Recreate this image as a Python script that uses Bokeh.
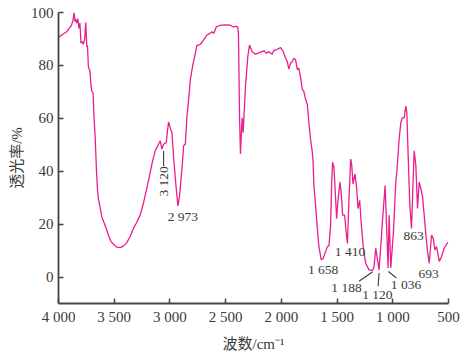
import numpy as np
from bokeh.plotting import figure
from bokeh.models import Range1d, FixedTicker, ColumnDataSource
from bokeh.core.properties import value
from bokeh.embed import file_html
from bokeh.resources import INLINE

# Spectrum (wavenumber cm^-1, transmittance %)
wavenumber = [4000, 3965, 3926, 3905, 3885, 3870, 3860, 3852, 3845, 3835, 3827, 3816, 3808, 3798,
              3788, 3777, 3765, 3755, 3746, 3740, 3732, 3717, 3710, 3701, 3690, 3681, 3670, 3660,
              3650, 3642, 3611, 3582, 3552, 3530, 3507, 3475, 3447, 3420, 3387, 3355, 3327, 3300,
              3267, 3240, 3222, 3200, 3177, 3155, 3132, 3102, 3087, 3072, 3057, 3033, 3020, 3012,
              2995, 2982, 2967, 2946, 2928, 2913, 2892, 2877, 2862, 2847, 2832, 2817, 2795, 2772,
              2757, 2742, 2727, 2700, 2667, 2645, 2622, 2607, 2583, 2560, 2532, 2500, 2457, 2430,
              2412, 2392, 2385, 2375, 2367, 2358, 2352, 2343, 2322, 2301, 2286, 2262, 2232, 2187,
              2157, 2133, 2113, 2082, 2068, 2038, 2007, 1995, 1983, 1962, 1947, 1933, 1917, 1902,
              1887, 1872, 1857, 1843, 1827, 1812, 1798, 1782, 1767, 1753, 1738, 1722, 1715, 1708,
              1693, 1677, 1663, 1642, 1624, 1603, 1588, 1573, 1558, 1549, 1540, 1528, 1518, 1504,
              1492, 1474, 1462, 1450, 1432, 1422, 1407, 1393, 1378, 1369, 1357, 1339, 1324, 1312,
              1297, 1282, 1264, 1243, 1213, 1183, 1168, 1153, 1137, 1123, 1093, 1069, 1054, 1042,
              1033, 1018, 994, 973, 964, 943, 928, 913, 898, 883, 874, 862, 847, 832, 817, 808,
              793, 778, 763, 748, 733, 718, 703, 688, 673, 652, 637, 622, 607, 598, 583, 562,
              538, 514, 502]
transmittance = [90.6, 91.7, 92.7, 94.0, 95.0, 97.0, 100.0, 96.5, 97.5, 96.0, 97.7, 94.0, 96.0, 88.4,
                 89.0, 88.0, 90.0, 96.2, 87.0, 87.5, 79.6, 77.7, 73.0, 70.2, 69.6, 60.4, 52.0, 40.9,
                 33.0, 29.6, 22.7, 19.6, 15.9, 13.5, 12.4, 11.3, 11.1, 11.6, 13.0, 15.5, 18.4, 20.5,
                 23.4, 27.5, 30.9, 35.0, 39.6, 44.0, 47.7, 50.2, 51.5, 48.4, 50.2, 50.9, 56.0, 58.6,
                 56.0, 54.6, 45.2, 34.6, 26.9, 30.9, 40.9, 49.6, 50.2, 60.9, 67.0, 74.6, 80.0, 84.6,
                 87.7, 87.7, 88.0, 89.5, 91.5, 92.0, 92.7, 92.1, 94.6, 95.0, 95.2, 95.3, 95.2, 94.5,
                 94.8, 94.6, 92.0, 60.0, 46.5, 55.0, 60.2, 54.6, 72.1, 83.4, 87.7, 85.2, 84.2, 85.0,
                 85.5, 84.6, 85.2, 84.2, 85.6, 86.1, 86.7, 86.0, 85.2, 82.7, 81.5, 78.6, 80.9, 81.5,
                 82.7, 82.1, 78.4, 79.0, 75.3, 70.9, 70.2, 67.1, 65.2, 58.4, 52.1, 47.1, 43.4, 34.6,
                 27.1, 18.4, 11.5, 6.5, 7.1, 9.6, 11.5, 11.8, 19.6, 34.6, 43.4, 41.5, 33.4, 22.1,
                 29.0, 35.9, 31.5, 23.4, 23.4, 18.4, 12.7, 29.6, 44.6, 42.7, 35.2, 39.0, 33.4, 25.9,
                 29.0, 19.6, 10.9, 5.2, 2.7, 2.4, 4.0, 10.9, 6.5, 2.7, 20.9, 34.6, 17.1, 3.4,
                 23.4, 3.4, 17.1, 35.9, 39.6, 52.1, 58.4, 60.2, 60.2, 64.6, 62.1, 45.9, 27.1, 18.4, 37.1, 47.7,
                 42.1, 25.9, 35.9, 33.4, 30.3, 23.4, 15.9, 9.6, 5.2, 15.9, 14.6, 10.2, 11.5, 9.6, 5.9, 7.8,
                 10.9, 12.7, 13.1]

x_ticks = [4000, 3500, 3000, 2500, 2000, 1500, 1000, 500]
x_tick_labels = ["4 000", "3 500", "3 000", "2 500", "2 000", "1 500", "1 000", "500"]
y_ticks = [0, 20, 40, 60, 80, 100]

# Peak annotations (horizontal)
ann_text = ["2 973", "1 658", "1 410", "863", "693", "1 188", "1 120", "1 036"]
ann_x = [2884, 1625, 1384, 813, 678, 1415, 1138, 881]
ann_y = [22.8, 2.7, 9.6, 15.5, 1.3, -4.1, -6.6, -2.9]

# Leader lines (x0, y0, x1, y1)
lead_x0 = [1303, 1132, 1039, 3057]
lead_y0 = [-1.6, -3.5, 2.1, 42.0]
lead_x1 = [1183, 1123, 967, 3057]
lead_y1 = [1.9, 1.5, -0.4, 47.6]

# Rotated annotation
rot_text = ["3 120"]
rot_x = [3057]
rot_y = [30.4]

serif = "Liberation Serif"
mixed = "'Liberation Serif', 'Noto Sans CJK SC'"
ink = "#3a3a3a"

p = figure(width=473, height=354, output_backend="svg", toolbar_location=None,
           x_range=Range1d(4000, 500), y_range=Range1d(-10, 100),
           min_border_left=58, min_border_right=25, min_border_top=12, min_border_bottom=48)
p.outline_line_color = None
p.grid.visible = False
p.background_fill_color = "white"
p.border_fill_color = "white"

p.line(wavenumber, transmittance, line_color="#ea1e8c", line_width=1.3)

p.segment(x0=lead_x0, y0=lead_y0, x1=lead_x1, y1=lead_y1, line_color=ink, line_width=1.1)

src = ColumnDataSource(dict(x=ann_x, y=ann_y, t=ann_text))
p.text(x="x", y="y", text="t", source=src, text_font=value(serif), text_font_size="13.5px",
       text_align="center", text_baseline="middle", text_color=ink)
p.text(x=rot_x, y=rot_y, text=rot_text, angle=np.pi / 2, text_font=value(serif),
       text_font_size="13.5px", text_align="left", text_baseline="middle", text_color=ink)

for ax in (p.xaxis[0], p.yaxis[0]):
    ax.axis_line_color = "#444444"
    ax.axis_line_width = 1.8
    ax.major_tick_line_color = "#444444"
    ax.major_tick_line_width = 1.5
    ax.major_tick_in = 5
    ax.major_tick_out = 0
    ax.minor_tick_line_color = None
    ax.major_label_text_font = serif
    ax.major_label_text_font_size = "15px"
    ax.major_label_text_color = ink
    ax.axis_label_text_font = mixed
    ax.axis_label_text_font_size = "15px"
    ax.axis_label_text_font_style = "normal"
    ax.axis_label_text_color = ink

p.xaxis.ticker = FixedTicker(ticks=x_ticks)
p.xaxis.major_label_overrides = {t: l for t, l in zip(x_ticks, x_tick_labels)}
p.xaxis.major_label_standoff = 5
p.xaxis.axis_label = "波数/cm⁻¹"
p.xaxis.axis_label_standoff = 8

p.yaxis.ticker = FixedTicker(ticks=y_ticks)
p.yaxis.major_label_standoff = 5
p.yaxis.axis_label = "透光率/%"
p.yaxis.axis_label_standoff = 3

open("out.html", "w").write(file_html(p, INLINE))
